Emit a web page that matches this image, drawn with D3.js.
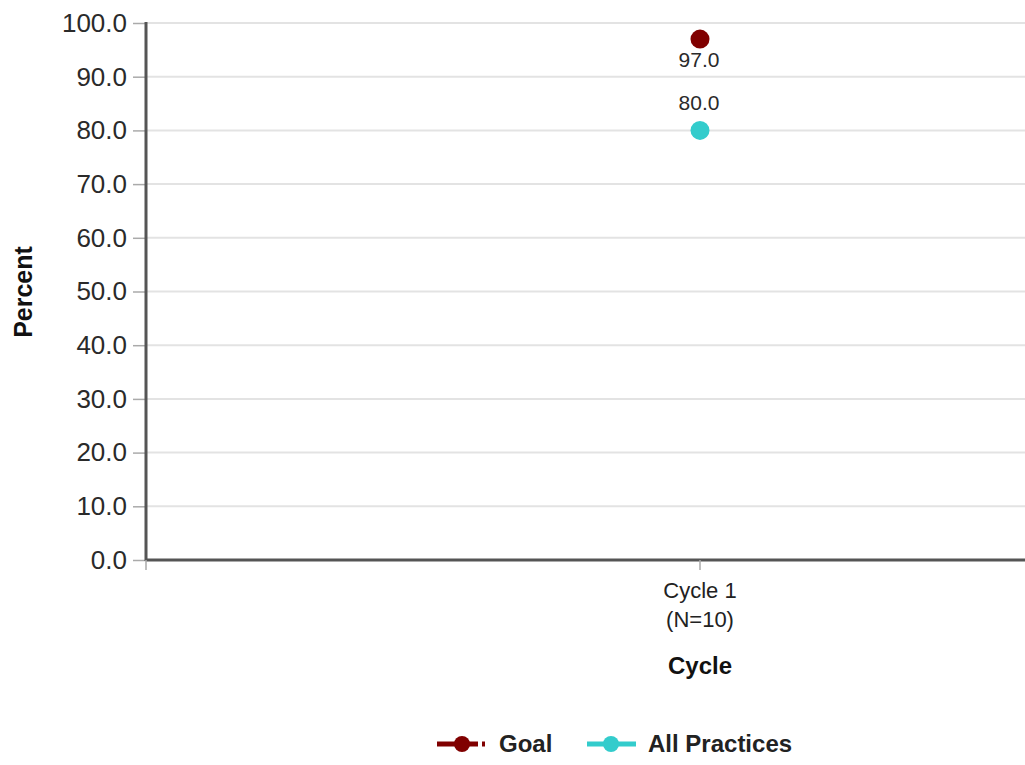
<!DOCTYPE html>
<html><head><meta charset="utf-8">
<script src="https://cdn.jsdelivr.net/npm/d3@7"></script>
<style>
html,body{margin:0;padding:0;background:#fff;overflow:hidden;}
text{font-family:"Liberation Sans",Arial,sans-serif;}
</style></head>
<body>
<svg id="chart" width="1025" height="765"></svg>
<script>
const categories = ["Cycle 1"];
const categorySub = ["(N=10)"];
const goalValues = [97.0];
const allPracticesValues = [80.0];
const yTicks = [0,10,20,30,40,50,60,70,80,90,100];
const seriesNames = ["Goal","All Practices"];
const seriesColors = ["#800000","#33CCCC"];

const svg = d3.select("#chart");
const pLeft = 146, pRight = 1254, pTop = 23, pBottom = 560;

const x = d3.scaleBand().domain(categories).range([pLeft, pRight]);
const y = d3.scaleLinear().domain([0,100]).range([pBottom, pTop]);

// gridlines
svg.append("g").selectAll("line").data(yTicks.filter(d=>d>0)).join("line")
  .attr("x1", pLeft).attr("x2", pRight)
  .attr("y1", d=>y(d)).attr("y2", d=>y(d))
  .attr("stroke", "#e3e3e3").attr("stroke-width", 2);

// y axis
const yAxis = d3.axisLeft(y).tickValues(yTicks).tickFormat(d3.format(".1f")).tickSize(13).tickPadding(6);
const gy = svg.append("g").attr("transform", `translate(${pLeft},0)`).call(yAxis);
gy.select(".domain").remove();
gy.selectAll(".tick line").attr("stroke", "#aaa").attr("stroke-width", 1.5);
gy.selectAll(".tick text").attr("font-size", 26).attr("fill", "#2a2a2a");
svg.append("line").attr("x1", pLeft).attr("x2", pLeft).attr("y1", pTop-1).attr("y2", pBottom+1)
  .attr("stroke", "#555").attr("stroke-width", 3);

// x axis
const gx = svg.append("g").attr("transform", `translate(0,${pBottom})`);
gx.append("line").attr("x1", pLeft).attr("x2", pRight).attr("y1", 0).attr("y2", 0)
  .attr("stroke", "#555").attr("stroke-width", 3);
gx.append("line").attr("x1", pLeft).attr("x2", pLeft).attr("y1", 0).attr("y2", 10)
  .attr("stroke", "#aaa").attr("stroke-width", 1.5);
const xt = gx.selectAll("g.xt").data(categories).join("g").attr("class","xt")
  .attr("transform", d => `translate(${x(d)+x.bandwidth()/2},0)`);
xt.append("line").attr("y1", 0).attr("y2", 10).attr("stroke", "#aaa").attr("stroke-width", 1.5);
xt.append("text").attr("y", 38).attr("text-anchor","middle").attr("font-size", 22).attr("fill","#222").text(d=>d);
xt.append("text").attr("y", 67).attr("text-anchor","middle").attr("font-size", 22).attr("fill","#222").text((d,i)=>categorySub[i]);

// axis titles
svg.append("text").attr("x", x(categories[0])+x.bandwidth()/2).attr("y", 674).attr("text-anchor","middle")
  .attr("font-size", 24).attr("font-weight","bold").attr("fill","#111").text("Cycle");
svg.append("text").attr("transform","translate(32,292) rotate(-90)").attr("text-anchor","middle")
  .attr("font-size", 25).attr("font-weight","bold").attr("fill","#111").text("Percent");

// series
const cx = d => x(d)+x.bandwidth()/2;
const series = [
  {name: seriesNames[0], values: goalValues, color: seriesColors[0], labelDy: 28},
  {name: seriesNames[1], values: allPracticesValues, color: seriesColors[1], labelDy: -20}
];
series.forEach(s => {
  const g = svg.append("g");
  g.selectAll("circle").data(categories).join("circle")
    .attr("cx", d=>cx(d)).attr("cy", (d,i)=>y(s.values[i])).attr("r", 9.5).attr("fill", s.color);
  g.selectAll("text").data(categories).join("text")
    .attr("x", d=>cx(d)-1).attr("y", (d,i)=>y(s.values[i]) + s.labelDy)
    .attr("text-anchor","middle").attr("font-size", 21).attr("fill","#2a2a2a")
    .text((d,i)=>s.values[i].toFixed(1));
});

// legend
const legendY = 744;
const lg = svg.append("g");
lg.append("line").attr("x1",437).attr("x2",487).attr("y1",legendY).attr("y2",legendY)
  .attr("stroke", seriesColors[0]).attr("stroke-width",5).attr("stroke-dasharray","41,4,3,4");
lg.append("circle").attr("cx",462).attr("cy",legendY).attr("r",8).attr("fill",seriesColors[0]);
lg.append("text").attr("x",499).attr("y",legendY+8).attr("font-size",24).attr("font-weight","bold").attr("fill","#222").text(seriesNames[0]);
lg.append("line").attr("x1",587).attr("x2",636).attr("y1",legendY).attr("y2",legendY)
  .attr("stroke", seriesColors[1]).attr("stroke-width",5);
lg.append("circle").attr("cx",611).attr("cy",legendY).attr("r",8).attr("fill",seriesColors[1]);
lg.append("text").attr("x",648).attr("y",legendY+8).attr("font-size",24).attr("font-weight","bold").attr("fill","#222").text(seriesNames[1]);
</script>
</body></html>
